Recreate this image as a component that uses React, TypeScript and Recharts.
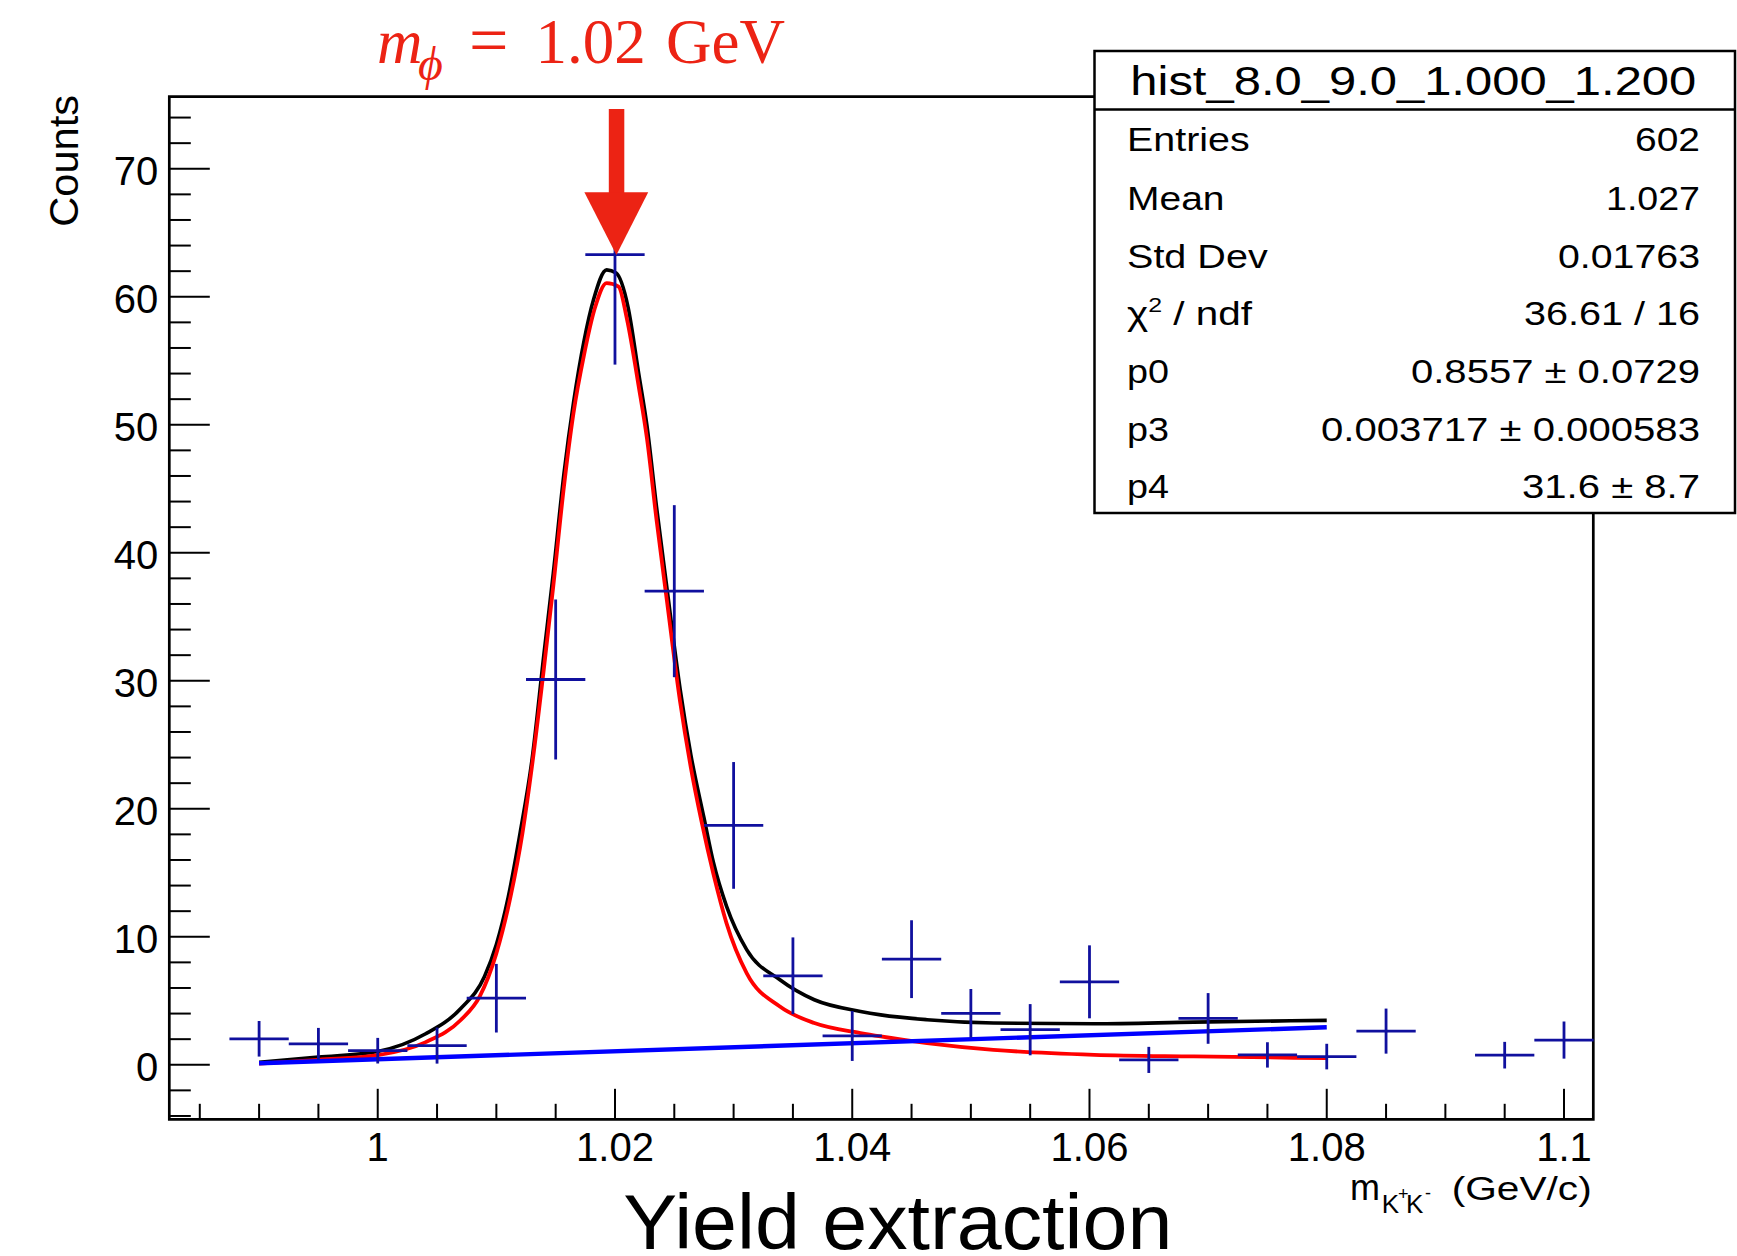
import React from "react";
import { ComposedChart, Line, Scatter, ErrorBar, XAxis, YAxis, ReferenceArea } from "recharts";

// histogram bins (m_KK in GeV/c) with counts and errors
const binCenters = [0.99, 0.995, 1.0, 1.005, 1.01, 1.015, 1.02, 1.025, 1.03, 1.035, 1.04, 1.045, 1.05, 1.055, 1.06, 1.065, 1.07, 1.075, 1.08, 1.085, 1.095, 1.1];
const binCounts = [2.03, 1.63, 1.1, 1.5, 5.2, 30.1, 63.3, 37.0, 18.7, 6.95, 2.25, 8.25, 4.02, 2.74, 6.48, 0.38, 3.62, 0.77, 0.64, 2.63, 0.75, 1.93];
const binErrors = [1.39, 1.25, 1.0, 1.41, 2.68, 6.25, 8.6, 6.72, 4.95, 3.0, 1.95, 3.04, 1.9, 2.0, 2.85, 1.02, 1.98, 0.99, 1.0, 1.76, 1.04, 1.45];
const binHalfWidth = 0.0025;

// total fit (black)
const totalX = [0.99, 0.995, 1.0, 1.004, 1.007, 1.009, 1.01, 1.011, 1.012, 1.013, 1.014, 1.0148, 1.0157, 1.0165, 1.0174, 1.0182, 1.0193, 1.0201, 1.0211, 1.022, 1.0227, 1.0235, 1.0244, 1.0255, 1.0264, 1.0275, 1.0283, 1.0294, 1.0311, 1.0339, 1.0368, 1.0407, 1.0424, 1.0463, 1.0519, 1.0604, 1.0688, 1.08];
const totalY = [0.2, 0.6, 1.04, 2.4, 4.4, 6.9, 9.4, 13.1, 18.1, 23.8, 32.0, 38.4, 46.2, 51.7, 56.6, 59.8, 62.1, 61.85, 59.2, 54.0, 49.9, 43.6, 37.1, 29.3, 24.2, 19.3, 15.8, 12.4, 9.0, 6.64, 5.08, 4.17, 3.9, 3.52, 3.26, 3.2, 3.33, 3.47];

// signal part (red)
const signalX = [0.99, 0.995, 1.0, 1.004, 1.007, 1.0086, 1.01, 1.0112, 1.0122, 1.013, 1.014, 1.0148, 1.0157, 1.0165, 1.0174, 1.0183, 1.0193, 1.0203, 1.021, 1.022, 1.0227, 1.0235, 1.0244, 1.0255, 1.0264, 1.0273, 1.0283, 1.0294, 1.0311, 1.0339, 1.0368, 1.0407, 1.0424, 1.0463, 1.0519, 1.0604, 1.0688, 1.08];
const signalY = [0.08, 0.39, 0.75, 1.75, 3.5, 5.34, 8.7, 13.15, 18.1, 23.3, 30.9, 37.4, 45.2, 50.9, 55.5, 59.1, 61.07, 60.8, 58.3, 53.0, 48.9, 42.6, 36.1, 28.3, 23.2, 19.0, 14.9, 11.07, 7.16, 4.55, 3.26, 2.48, 2.21, 1.7, 1.17, 0.78, 0.65, 0.52];

// linear background (blue)
const bkgX = [0.99, 1.08];
const bkgY = [0.12, 2.93];

// axes
const xTicks = [0.985, 0.99, 0.995, 1, 1.005, 1.01, 1.015, 1.02, 1.025, 1.03, 1.035, 1.04, 1.045, 1.05, 1.055, 1.06, 1.065, 1.07, 1.075, 1.08, 1.085, 1.09, 1.095, 1.1];
const xMajorTicks = [1, 1.02, 1.04, 1.06, 1.08, 1.1];
const xTickLabels = ["1", "1.02", "1.04", "1.06", "1.08", "1.1"];
const yTicks = [-4, -2, 0, 2, 4, 6, 8, 10, 12, 14, 16, 18, 20, 22, 24, 26, 28, 30, 32, 34, 36, 38, 40, 42, 44, 46, 48, 50, 52, 54, 56, 58, 60, 62, 64, 66, 68, 70, 72, 74];
const yMajorTicks = [0, 10, 20, 30, 40, 50, 60, 70];
const yTickLabels = ["0", "10", "20", "30", "40", "50", "60", "70"];

// stats box
const statNames = ["Entries", "Mean", "Std Dev", "chi2", "p0", "p3", "p4"];
const statValues = ["602", "1.027", "0.01763", "36.61 / 16", "0.8557 \u00b1 0.0729", "0.003717 \u00b1 0.000583", "31.6 \u00b1 8.7"];

const W = 1737;
const H = 1256;
const SANS = "'Liberation Sans', Arial, Helvetica, sans-serif";
const SERIF = "'Liberation Serif', 'Times New Roman', serif";
const xDomain: [number, number] = [0.98243, 1.10247];
const yDomain: [number, number] = [-4.26, 75.63];

const points = binCenters.map((x, i) => ({ x, y: binCounts[i], ey: binErrors[i], ex: binHalfWidth }));
const totalData = totalX.map((x, i) => ({ x, y: totalY[i] }));
const signalData = signalX.map((x, i) => ({ x, y: signalY[i] }));
const bkgData = bkgX.map((x, i) => ({ x, y: bkgY[i] }));

const majorIndex = (v: number, majors: number[]) => majors.findIndex((m) => Math.abs(m - v) < 1e-9);

function XTick(props: any) {
  const { x, y, payload } = props;
  const i = majorIndex(payload.value, xMajorTicks);
  return (
    <g>
      <line x1={x} x2={x} y1={y} y2={y - (i >= 0 ? 30.5 : 15.5)} stroke="#000" strokeWidth={2} />
      {i >= 0 && (
        <text x={x} y={y + 41.4} textAnchor="middle" fontSize={40} fontFamily={SANS} fill="#000">
          {xTickLabels[i]}
        </text>
      )}
    </g>
  );
}

function YTick(props: any) {
  const { x, y, payload } = props;
  const i = majorIndex(payload.value, yMajorTicks);
  return (
    <g>
      <line x1={x} x2={x + (i >= 0 ? 40.5 : 21.5)} y1={y} y2={y} stroke="#000" strokeWidth={2} />
      {i >= 0 && (
        <text x={x - 11} y={y + 16} textAnchor="end" fontSize={40} fontFamily={SANS} fill="#000">
          {yTickLabels[i]}
        </text>
      )}
    </g>
  );
}

const statWidthsL = [122.7, 97.5, 140.7, 125, 42, 42, 42];
const statWidthsR = [65, 94, 142, 176, 289, 379, 178];
const statBaselines = [151, 210, 268, 325, 383, 441, 498];

function StatsBox() {
  return (
    <g fontFamily={SANS} fill="#000">
      <rect x={1094.5} y={51} width={640.5} height={462} fill="#fff" stroke="#000" strokeWidth={2.5} />
      <line x1={1094.5} x2={1735} y1={109.5} y2={109.5} stroke="#000" strokeWidth={2.5} />
      <text x={1130.3} y={95} fontSize={41} textLength={566} lengthAdjust="spacingAndGlyphs">
        hist_8.0_9.0_1.000_1.200
      </text>
      {statNames.map((name, i) => (
        <g key={name}>
          {name === "chi2" ? (
            <text x={1127} y={statBaselines[i]} fontSize={34} textLength={statWidthsL[i]} lengthAdjust="spacingAndGlyphs">
              <tspan>{"\u03c7"}</tspan>
              <tspan fontSize={21} dy={-13}>2</tspan>
              <tspan dy={13}>{" / ndf"}</tspan>
            </text>
          ) : (
            <text x={1127} y={statBaselines[i]} fontSize={34} textLength={statWidthsL[i]} lengthAdjust="spacingAndGlyphs">
              {name}
            </text>
          )}
          <text x={1700} y={statBaselines[i]} fontSize={34} textAnchor="end" textLength={statWidthsR[i]} lengthAdjust="spacingAndGlyphs">
            {statValues[i]}
          </text>
        </g>
      ))}
    </g>
  );
}

export default function App() {
  return (
    <div style={{ position: "relative", width: W, height: H, background: "#fff", overflow: "hidden" }}>
      <style>{"body{margin:0;}"}</style>
      <ComposedChart width={W} height={H} margin={{ top: 96.7, right: 143.7, bottom: 0, left: 0 }}>
        <XAxis
          type="number"
          dataKey="x"
          domain={xDomain}
          allowDataOverflow
          ticks={xTicks}
          interval={0}
          tickSize={0}
          tickMargin={0}
          axisLine={false}
          tickLine={false}
          height={136.7}
          tick={(p: any) => <XTick {...p} />}
        />
        <YAxis
          type="number"
          domain={yDomain}
          allowDataOverflow
          ticks={yTicks}
          interval={0}
          tickSize={0}
          tickMargin={0}
          axisLine={false}
          tickLine={false}
          width={169.3}
          tick={(p: any) => <YTick {...p} />}
        />
        <ReferenceArea
          x1={xDomain[0]}
          x2={xDomain[1]}
          y1={yDomain[0]}
          y2={yDomain[1]}
          fill="none"
          fillOpacity={0}
          stroke="#000"
          strokeWidth={2.7}
          ifOverflow="visible"
        />
        <Scatter
          data={points}
          dataKey="y"
          isAnimationActive={false}
          zIndex={350}
          shape={(p: any) => <circle cx={p.cx} cy={p.cy} r={1.6} fill="#000" />}
        >
          <ErrorBar dataKey="ey" direction="y" width={0} stroke="#10109e" strokeWidth={2.8} isAnimationActive={false} />
          <ErrorBar dataKey="ex" direction="x" width={0} stroke="#10109e" strokeWidth={2.8} isAnimationActive={false} />
        </Scatter>
        <Line data={totalData} dataKey="y" type="monotone" stroke="#000" strokeWidth={3.6} dot={false} isAnimationActive={false} />
        <Line data={signalData} dataKey="y" type="monotone" stroke="#ff0000" strokeWidth={3.8} dot={false} isAnimationActive={false} />
        <Line data={bkgData} dataKey="y" type="linear" stroke="#0000ff" strokeWidth={4.4} dot={false} isAnimationActive={false} />
      </ComposedChart>

      <svg width={W} height={H} style={{ position: "absolute", left: 0, top: 0, pointerEvents: "none" }}>
        {/* peak annotation */}
        <g fill="#ec2314" fontFamily={SERIF}>
          <text x={377} y={62.7} fontSize={63} fontStyle="italic">m</text>
          <text x={418} y={80} fontSize={48} fontStyle="italic">{"\u03d5"}</text>
          <text x={469} y={64} fontSize={70}>=</text>
          <text x={535.5} y={62.7} fontSize={63}>1.02</text>
          <text x={666} y={62.7} fontSize={63}>GeV</text>
        </g>
        <rect x={608.8} y={109} width={15.5} height={84} fill="#ec2314" />
        <polygon points="584.4,192.3 648.2,192.3 616.4,255" fill="#ec2314" />

        <StatsBox />

        {/* axis titles */}
        <g fontFamily={SANS} fill="#000">
          <text x={1350} y={1200} fontSize={36}>m</text>
          <text x={1381.7} y={1213} fontSize={26}>K</text>
          <text x={1398} y={1200} fontSize={18}>+</text>
          <text x={1406} y={1213} fontSize={26}>K</text>
          <text x={1425} y={1199} fontSize={18}>-</text>
          <text x={1451.7} y={1200} fontSize={34} textLength={140} lengthAdjust="spacingAndGlyphs">(GeV/c)</text>
          <text transform="translate(78.3,95) rotate(-90)" textAnchor="end" fontSize={41} textLength={131.7} lengthAdjust="spacingAndGlyphs">
            Counts
          </text>
          <text x={623.3} y={1249} fontSize={77} textLength={549} lengthAdjust="spacingAndGlyphs">
            Yield extraction
          </text>
        </g>
      </svg>
    </div>
  );
}
